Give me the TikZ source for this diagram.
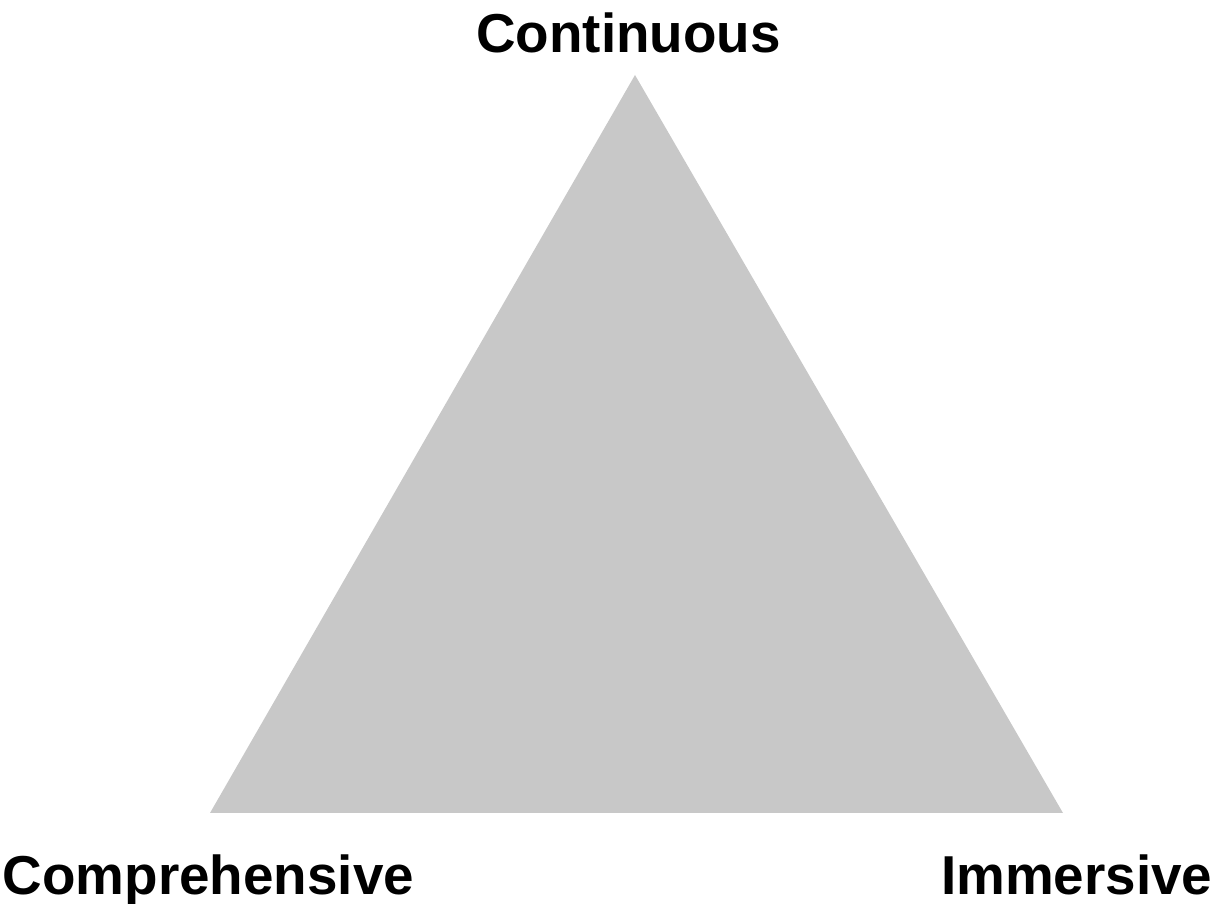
\documentclass[tikz,border=0pt]{standalone}
\usepackage{fontspec}
\setmainfont{Liberation Sans}
\definecolor{trigray}{RGB}{200,200,200}
\tikzset{
  lbl/.style={inner sep=0pt, font=\fontsize{15.6}{18}\selectfont\bfseries},
  trifill/.style={fill=trigray}
}
\begin{document}
\begin{tikzpicture}
            \useasboundingbox (0,0) rectangle (12.2,-9.04);
            \coordinate (T) at (6.35,-0.75);
            \coordinate (L) at (2.10,-8.13);
            \coordinate (R) at (10.63,-8.13);
            \fill[trifill] (T) -- (L) -- (R) -- cycle;
            \node[lbl, anchor=base] (cont) at (6.285,-0.53){Continuous};
            \node[lbl, anchor=base west] (comp) at (0.02,-8.95){Comprehensive};
            \node[lbl, anchor=base east] (imm) at (12.13,-8.95){Immersive};
        \end{tikzpicture}
\end{document}
